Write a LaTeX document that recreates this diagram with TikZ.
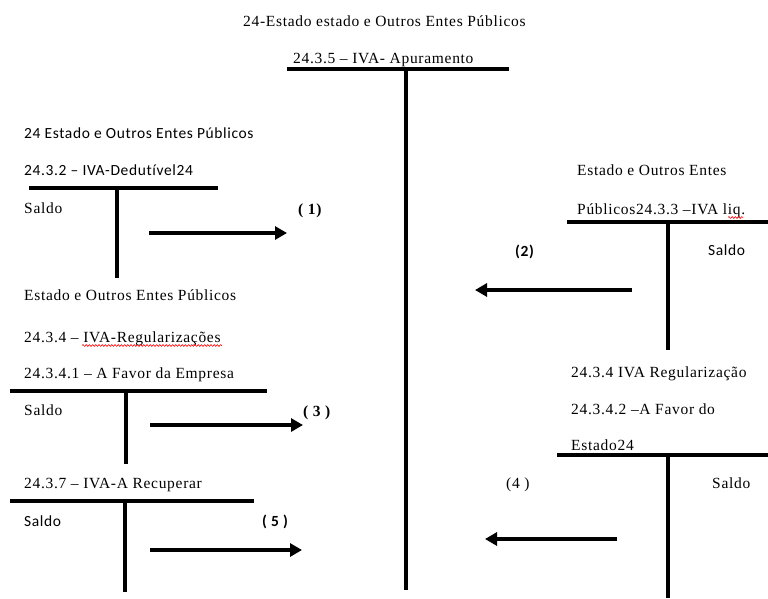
\documentclass[tikz,border=0pt]{standalone}
\usepackage{fontspec}
\newfontfamily\timesfont[LetterSpace=4.5]{Liberation Serif}
\newfontfamily\calibrifont[Ligatures=NoCommon, LetterSpace=4]{Carlito}
\usetikzlibrary{arrows.meta,decorations.pathmorphing}

\tikzset{
  ser/.style={anchor=base west, inner sep=0pt, font=\timesfont\fontsize{15.5}{18}\selectfont},
  sans/.style={anchor=base west, inner sep=0pt, font=\calibrifont\fontsize{15.5}{18}\selectfont},
  tbar/.style={line width=4pt},
  tstem/.style={line width=3.5pt},
  flow/.style={line width=3.5pt, -{Triangle[length=12pt,width=13pt]}},
  spell/.style={red, line width=0.6pt, decorate,
    decoration={snake, amplitude=0.9pt, segment length=3.2pt}},
}

\begin{document}
\begin{tikzpicture}[x=1pt, y=-1pt]
\useasboundingbox (0,0) rectangle (768,598);

% ---- 24.3.5 IVA - Apuramento (central account) ----
\node[ser] (title) at (243,26) {24-Estado estado e Outros Entes Públicos};
\node[ser] (apTxt) at (293,63) {24.3.5 – IVA- Apuramento};
\coordinate (apL) at (287,69);
\coordinate (apR) at (509,69);
\coordinate (apTop) at (406,69);
\coordinate (apBot) at (406,590);
\draw[tbar] (apL) -- (apR);
\draw[tstem] (apTop) -- (apBot);

% ---- 24.3.2 IVA dedutivel ----
\node[sans] (dedHead) at (24,138) {24 Estado e Outros Entes Públicos};
\node[sans] (dedTxt) at (24,175) {24.3.2 – IVA-Dedutível24};
\coordinate (dedL) at (29,188);
\coordinate (dedR) at (218,188);
\coordinate (dedTop) at (117,188);
\coordinate (dedBot) at (117,278);
\draw[tbar] (dedL) -- (dedR);
\draw[tstem] (dedTop) -- (dedBot);
\node[ser] (dedSaldo) at (24,213) {Saldo};
\node[ser, font=\timesfont\fontsize{15.5}{18}\selectfont\bfseries] (n1) at (298,214) {( 1)};
\coordinate (a1s) at (149,233);
\coordinate (a1e) at (287,233);
\draw[flow] (a1s) -- (a1e);

% ---- 24.3.4.1 regularizacoes a favor da empresa ----
\node[ser] (regHead) at (24,300) {Estado e Outros Entes Públicos};
\node[ser] (regTxt) at (24,342) {24.3.4 – IVA-Regularizações};
\coordinate (sq1a) at (82,345.5);
\coordinate (sq1b) at (222,345.5);
\draw[spell] (sq1a) -- (sq1b);
\node[ser] (empTxt) at (24,378) {24.3.4.1 – A Favor da Empresa};
\coordinate (empL) at (10,391);
\coordinate (empR) at (267,391);
\coordinate (empTop) at (126,391);
\coordinate (empBot) at (126,464);
\draw[tbar] (empL) -- (empR);
\draw[tstem] (empTop) -- (empBot);
\node[ser] (empSaldo) at (24,415) {Saldo};
\node[ser, font=\timesfont\fontsize{15.5}{18}\selectfont\bfseries] (n3) at (303,416) {( 3 )};
\coordinate (a3s) at (150,425);
\coordinate (a3e) at (303,425);
\draw[flow] (a3s) -- (a3e);

% ---- 24.3.7 IVA a recuperar ----
\node[ser] (recTxt) at (24,488) {24.3.7 – IVA-A Recuperar};
\coordinate (recL) at (10,501);
\coordinate (recR) at (254,501);
\coordinate (recTop) at (125,501);
\coordinate (recBot) at (125,592);
\draw[tbar] (recL) -- (recR);
\draw[tstem] (recTop) -- (recBot);
\node[sans] (recSaldo) at (24,526) {Saldo};
\node[sans, font=\calibrifont\fontsize{15.5}{18}\selectfont\bfseries] (n5) at (262,526) {( 5 )};
\coordinate (a5s) at (150,550);
\coordinate (a5e) at (302,550);
\draw[flow] (a5s) -- (a5e);

% ---- 24.3.3 IVA liquidado ----
\node[ser] (liqHead) at (577,175) {Estado e Outros Entes};
\node[ser] (liqTxt) at (577,214) {Públicos24.3.3 –IVA liq.};
\coordinate (sq2a) at (728,217.5);
\coordinate (sq2b) at (743,217.5);
\draw[spell] (sq2a) -- (sq2b);
\coordinate (liqL) at (567,222);
\coordinate (liqR) at (768,222);
\coordinate (liqTop) at (668,222);
\coordinate (liqBot) at (668,350);
\draw[tbar] (liqL) -- (liqR);
\draw[tstem] (liqTop) -- (liqBot);
\node[sans] (liqSaldo) at (708,255) {Saldo};
\node[sans, font=\calibrifont\fontsize{15.5}{18}\selectfont\bfseries] (n2) at (515,256) {(2)};
\coordinate (a2s) at (632,290);
\coordinate (a2e) at (475,290);
\draw[flow] (a2s) -- (a2e);

% ---- 24.3.4.2 regularizacao a favor do estado ----
\node[ser] (estHead) at (571,377) {24.3.4 IVA Regularização};
\node[ser] (estTxt) at (571,414) {24.3.4.2 –A Favor do};
\node[ser] (estTxt2) at (571,450) {Estado24};
\coordinate (estL) at (557,455);
\coordinate (estR) at (768,455);
\coordinate (estTop) at (668,455);
\coordinate (estBot) at (668,598);
\draw[tbar] (estL) -- (estR);
\draw[tstem] (estTop) -- (estBot);
\node[ser] (n4) at (506,488) {(4 )};
\node[ser] (estSaldo) at (712,488) {Saldo};
\coordinate (a4s) at (617,539);
\coordinate (a4e) at (485,539);
\draw[flow] (a4s) -- (a4e);
\end{tikzpicture}
\end{document}
